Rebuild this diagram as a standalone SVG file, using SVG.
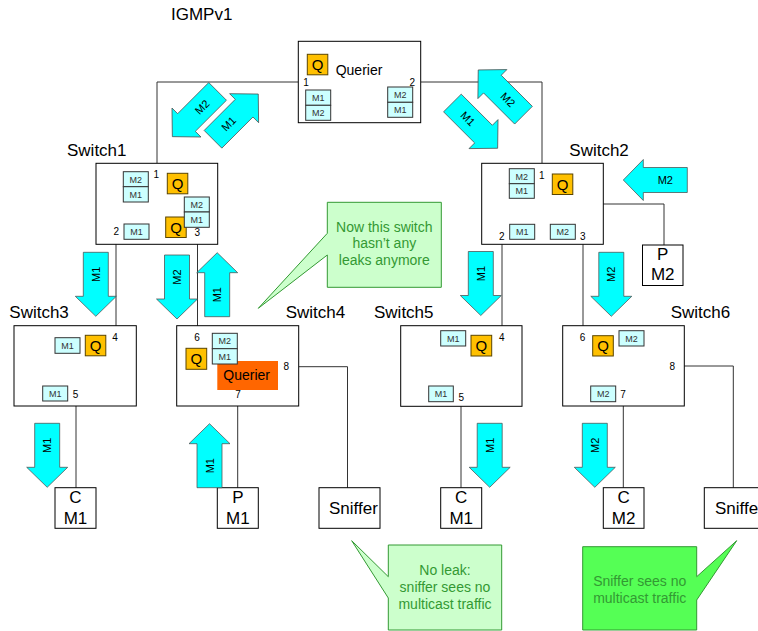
<svg xmlns="http://www.w3.org/2000/svg" xmlns:xlink="http://www.w3.org/1999/xlink" width="758" height="631" viewBox="0 0 758 631">
<style>
text{font-family:"Liberation Sans",Arial,sans-serif}
.box{fill:#fff;stroke:#000;stroke-width:1}
.m{fill:#CCFFFF;stroke:#333;stroke-width:1}
.mt{font-size:9px;fill:#333;text-anchor:middle}
.q{fill:#FFC000;stroke:#5a4500;stroke-width:1}
.qt{font-size:15px;fill:#000;text-anchor:middle}
.lbl{font-size:17px;fill:#000}
.num{font-size:10px;fill:#000;text-anchor:middle}
.big{font-size:17px;fill:#000;text-anchor:middle}
.arr{fill:#00FFFF;stroke:#4d4d4d;stroke-width:0.75}
.at{font-size:11px;fill:#000;text-anchor:middle;dominant-baseline:central}
.wire{stroke:#333;stroke-width:1;fill:none}
.co{stroke:#339933;stroke-width:1}
.cot{font-size:14px;fill:#339933;text-anchor:middle}
</style>
<defs>
<path id="arr" d="M0,-12.5H44V-20.5L64,0L44,20.5V12.5H0Z"/>
</defs>
<rect width="758" height="631" fill="#fff"/>
<text class="lbl" x="171" y="20">IGMPv1</text>

<g id="connectors">
<path class="wire" d="M298,82H157V163"/>
<path class="wire" d="M421,82H542V163"/>
<path class="wire" d="M116,244V326"/>
<path class="wire" d="M197.5,244V326"/>
<path class="wire" d="M502,244V326"/>
<path class="wire" d="M583,244V326"/>
<path class="wire" d="M603,204H664V245"/>
<path class="wire" d="M76,406V488"/>
<path class="wire" d="M237.7,406V488"/>
<path class="wire" d="M299,366.7H347.5V488"/>
<path class="wire" d="M461,406V488"/>
<path class="wire" d="M623.3,406V488"/>
<path class="wire" d="M684,366H733.3V488"/>
</g>

<g id="querier">
<rect class="box" x="298.3" y="41.3" width="122.4" height="81.4"/>
<rect class="q" x="307.3" y="54.3" width="20.5" height="20.5"/>
<text class="qt" x="317.5" y="70">Q</text>
<text x="335.7" y="74.5" font-size="14" fill="#000">Querier</text>
<text class="num" x="306" y="86">1</text>
<text class="num" x="412.2" y="86">2</text>
<rect class="m" x="305.7" y="90" width="25" height="15.3"/><text class="mt" x="318.2" y="101">M1</text>
<rect class="m" x="305.7" y="105.3" width="25" height="15"/><text class="mt" x="318.2" y="116.2">M2</text>
<rect class="m" x="387.7" y="87" width="25" height="15.3"/><text class="mt" x="400.2" y="98">M2</text>
<rect class="m" x="387.7" y="102.3" width="25" height="15"/><text class="mt" x="400.2" y="113.2">M1</text>
</g>

<g id="switch1">
<text class="lbl" x="67" y="156">Switch1</text>
<rect class="box" x="96" y="163.3" width="121.7" height="81"/>
<rect class="m" x="123.3" y="171.7" width="25" height="15"/><text class="mt" x="135.8" y="182.6">M2</text>
<rect class="m" x="123.3" y="186.7" width="25" height="15.3"/><text class="mt" x="135.8" y="197.7">M1</text>
<text class="num" x="156.3" y="178.3">1</text>
<rect class="q" x="167.3" y="173.3" width="20.5" height="20.5"/><text class="qt" x="177.5" y="189">Q</text>
<rect class="q" x="165.7" y="217" width="20.5" height="20.5"/><text class="qt" x="176" y="232.6">Q</text>
<rect class="m" x="184.3" y="197" width="25" height="15"/><text class="mt" x="196.8" y="207.9">M2</text>
<rect class="m" x="184.3" y="212" width="25" height="15.3"/><text class="mt" x="196.8" y="223">M1</text>
<text class="num" x="197.2" y="235.8">3</text>
<text class="num" x="116.2" y="235.1">2</text>
<rect class="m" x="124" y="224" width="25" height="15.3"/><text class="mt" x="136.5" y="235">M1</text>
</g>

<g id="switch2">
<text class="lbl" x="569.3" y="155.7">Switch2</text>
<rect class="box" x="481.7" y="163.3" width="121.6" height="81"/>
<rect class="m" x="509.3" y="168.7" width="25" height="15"/><text class="mt" x="521.8" y="179.6">M2</text>
<rect class="m" x="509.3" y="183.7" width="25" height="14.6"/><text class="mt" x="521.8" y="194.4">M1</text>
<text class="num" x="541.7" y="178.9">1</text>
<rect class="q" x="552.3" y="174" width="20.5" height="20.5"/><text class="qt" x="562.5" y="189.7">Q</text>
<rect class="m" x="509.7" y="224.3" width="25" height="15"/><text class="mt" x="522.2" y="235.2">M1</text>
<rect class="m" x="550.3" y="224.3" width="25" height="15"/><text class="mt" x="562.8" y="235.2">M2</text>
<text class="num" x="501.8" y="239.8">2</text>
<text class="num" x="582.7" y="239.8">3</text>
</g>

<g id="pm2">
<rect class="box" x="642.5" y="245" width="40.5" height="40.5"/>
<text class="big" x="662.7" y="259.5">P</text>
<text class="big" x="662.7" y="279.5">M2</text>
</g>

<g id="switch3">
<text class="lbl" x="9.3" y="318.3">Switch3</text>
<rect class="box" x="14" y="325.7" width="122.3" height="80.3"/>
<rect class="m" x="55" y="337.7" width="25" height="15.6"/><text class="mt" x="67.5" y="348.8">M1</text>
<rect class="q" x="85.3" y="335.3" width="20.5" height="20.5"/><text class="qt" x="95.5" y="351">Q</text>
<text class="num" x="115" y="341.4">4</text>
<rect class="m" x="42.7" y="386" width="25" height="15"/><text class="mt" x="55.2" y="396.9">M1</text>
<text class="num" x="75.5" y="397.8">5</text>
</g>

<g id="switch4">
<text class="lbl" x="285.7" y="318.3">Switch4</text>
<rect class="box" x="176.7" y="325.7" width="122" height="80.3"/>
<text class="num" x="197" y="340.9">6</text>
<rect class="q" x="186" y="348.3" width="20.7" height="21"/><text class="qt" x="196.3" y="364.2">Q</text>
<rect x="217.3" y="361" width="60.7" height="29" fill="#FF6600"/>
<text x="223.3" y="380" font-size="14" fill="#000">Querier</text>
<rect class="m" x="212.3" y="333.3" width="25" height="15.4"/><text class="mt" x="224.8" y="344.4">M2</text>
<rect class="m" x="212.3" y="348.7" width="25" height="15.3"/><text class="mt" x="224.8" y="359.7">M1</text>
<text class="num" x="286.3" y="369.9">8</text>
<text class="num" x="238" y="397.8">7</text>
</g>

<g id="switch5">
<text class="lbl" x="374" y="318.3">Switch5</text>
<rect class="box" x="400.7" y="325.7" width="121.3" height="80.6"/>
<rect class="m" x="440.7" y="330.7" width="25" height="15.3"/><text class="mt" x="453.2" y="341.7">M1</text>
<rect class="q" x="471" y="335.3" width="20.7" height="20.7"/><text class="qt" x="481.3" y="351">Q</text>
<text class="num" x="501.7" y="341.1">4</text>
<rect class="m" x="428.7" y="386" width="24.6" height="15.7"/><text class="mt" x="441" y="397.2">M1</text>
<text class="num" x="461.3" y="401.4">5</text>
</g>

<g id="switch6">
<text class="lbl" x="670.7" y="318.3">Switch6</text>
<rect class="box" x="562.7" y="325.7" width="121.6" height="80.3"/>
<text class="num" x="582.5" y="341.1">6</text>
<rect class="q" x="592.7" y="335.7" width="20.6" height="20.3"/><text class="qt" x="603" y="351.3">Q</text>
<rect class="m" x="619" y="330.7" width="25" height="15.3"/><text class="mt" x="631.5" y="341.7">M2</text>
<text class="num" x="672.2" y="369.8">8</text>
<rect class="m" x="590.7" y="386" width="25" height="15.7"/><text class="mt" x="603.2" y="397.2">M2</text>
<text class="num" x="623" y="397.8">7</text>
</g>

<g id="cm1a">
<rect class="box" x="55" y="487.7" width="41" height="40.6"/>
<text class="big" x="75.5" y="503">C</text>
<text class="big" x="75.5" y="524">M1</text>
</g>
<g id="pm1">
<rect class="box" x="217.3" y="487.7" width="41" height="40.6"/>
<text class="big" x="237.8" y="503">P</text>
<text class="big" x="237.8" y="524">M1</text>
</g>
<g id="sniffer1">
<rect class="box" x="319" y="487.7" width="61" height="40.6"/>
<text x="329" y="514.3" font-size="17" fill="#000">Sniffer</text>
</g>
<g id="cm1b">
<rect class="box" x="440.7" y="487.7" width="41" height="40.6"/>
<text class="big" x="461.2" y="503">C</text>
<text class="big" x="461.2" y="524">M1</text>
</g>
<g id="cm2">
<rect class="box" x="603.3" y="487.7" width="40.7" height="40.6"/>
<text class="big" x="623.6" y="503">C</text>
<text class="big" x="623.6" y="524">M2</text>
</g>
<g id="sniffer2">
<rect class="box" x="704.3" y="487.7" width="61" height="40.6"/>
<text x="715" y="514.3" font-size="17" fill="#000">Sniffer</text>
</g>

<g id="arrows">
<use href="#arr" class="arr" transform="translate(217.6,91.4) rotate(135)"/>
<text class="at" transform="translate(202,107) rotate(-45)">M2</text>
<use href="#arr" class="arr" transform="translate(213,139.3) rotate(-45)"/>
<text class="at" transform="translate(228.6,123.7) rotate(-45)">M1</text>
<use href="#arr" class="arr" transform="translate(452.4,103) rotate(45)"/>
<text class="at" transform="translate(468,118.6) rotate(45)">M1</text>
<use href="#arr" class="arr" transform="translate(523.5,115.2) rotate(225)"/>
<text class="at" transform="translate(507.9,99.6) rotate(45)">M2</text>
<use href="#arr" class="arr" transform="translate(687.3,180) rotate(180)"/>
<text class="at" transform="translate(665.3,180)">M2</text>
<use href="#arr" class="arr" transform="translate(95.8,252.3) rotate(90)"/>
<text class="at" transform="translate(95.8,274.3) rotate(-90)">M1</text>
<use href="#arr" class="arr" transform="translate(177,255) rotate(90)"/>
<text class="at" transform="translate(177,277) rotate(-90)">M2</text>
<use href="#arr" class="arr" transform="translate(217.2,316.7) rotate(-90)"/>
<text class="at" transform="translate(217.2,294.7) rotate(-90)">M1</text>
<use href="#arr" class="arr" transform="translate(480.8,251.5) rotate(90)"/>
<text class="at" transform="translate(480.8,273.5) rotate(-90)">M1</text>
<use href="#arr" class="arr" transform="translate(611.3,252.3) rotate(90)"/>
<text class="at" transform="translate(611.3,274.3) rotate(-90)">M2</text>
<use href="#arr" class="arr" transform="translate(47.2,423.3) rotate(90)"/>
<text class="at" transform="translate(47.2,445.3) rotate(-90)">M1</text>
<use href="#arr" class="arr" transform="translate(209.5,487.7) rotate(-90)"/>
<text class="at" transform="translate(209.5,465.7) rotate(-90)">M1</text>
<use href="#arr" class="arr" transform="translate(489.7,423.3) rotate(90)"/>
<text class="at" transform="translate(489.7,445.3) rotate(-90)">M1</text>
<use href="#arr" class="arr" transform="translate(594.8,423.3) rotate(90)"/>
<text class="at" transform="translate(594.8,445.3) rotate(-90)">M2</text>
</g>

<g id="callout1">
<path class="co" fill="#CCFFCC" d="M327.3,202.3H441.3V287.3H327.3V255L258.3,308.3L327.3,233.3Z"/>
<text class="cot" x="384.3" y="231.7">Now this switch</text>
<text class="cot" x="384.3" y="248.3">hasn’t any</text>
<text class="cot" x="384.3" y="265">leaks anymore</text>
</g>
<g id="callout2">
<path class="co" fill="#CCFFCC" d="M388.3,545H501.7V630H388.3V598L351.7,540.7L388.3,576.7Z"/>
<text class="cot" x="445" y="575">No leak:</text>
<text class="cot" x="445" y="591.7">sniffer sees no</text>
<text class="cot" x="445" y="608.7">multicast traffic</text>
</g>
<g id="callout3">
<path class="co" fill="#55FF55" d="M582.7,546.7H696.7V576.7L736.7,540.7L696.7,600V630H582.7Z"/>
<text class="cot" x="639.7" y="585.7">Sniffer sees no</text>
<text class="cot" x="639.7" y="602.7">multicast traffic</text>
</g>
</svg>
